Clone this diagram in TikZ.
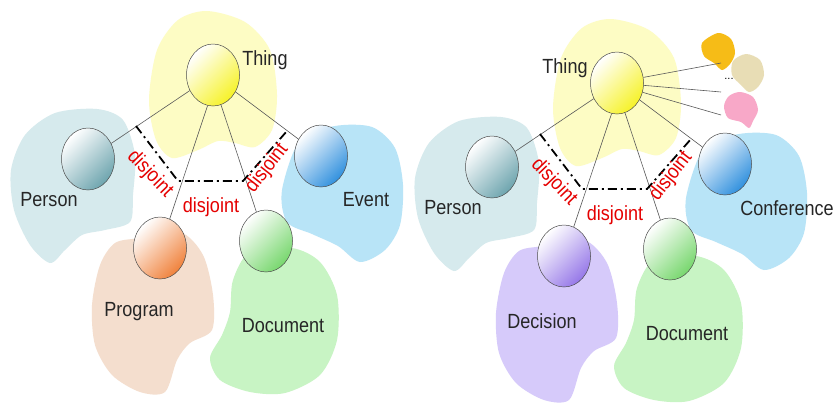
\documentclass[tikz,border=0pt]{standalone}
\usepackage{fontspec}
\setmainfont{Liberation Sans}
\newfontfamily\labelfont[FakeStretch=0.88]{Liberation Sans}
\usetikzlibrary{shapes.geometric}

\definecolor{thingbg}{RGB}{253,252,196}
\definecolor{personbg}{RGB}{214,234,237}
\definecolor{eventbg}{RGB}{184,228,247}
\definecolor{progbg}{RGB}{244,222,206}
\definecolor{docbg}{RGB}{200,244,196}
\definecolor{decbg}{RGB}{214,202,250}
\definecolor{thingball}{RGB}{246,242,40}
\definecolor{personball}{RGB}{110,165,175}
\definecolor{eventball}{RGB}{50,145,222}
\definecolor{progball}{RGB}{240,130,60}
\definecolor{docball}{RGB}{120,215,110}
\definecolor{decball}{RGB}{150,120,232}
\definecolor{orangebg}{RGB}{246,188,23}
\definecolor{beigebg}{RGB}{232,221,181}
\definecolor{pinkbg}{RGB}{248,168,200}

\tikzset{
  ball/.style={ellipse, draw=black!70, line width=.5pt, minimum width=53pt, minimum height=62pt,
    inner sep=0pt, top color=white, bottom color=#1, shading angle=45},
  link/.style={draw=black!65, line width=.6pt},
  disj/.style={line width=1.8pt, dash pattern=on 9pt off 4pt on 2pt off 4pt},
  disjlabel/.style={text=red!90!black, font=\labelfont\fontsize{20.5}{22}\selectfont, inner sep=0pt},
  classname/.style={text=black!85, font=\labelfont\fontsize{20.5}{22}\selectfont, inner sep=0pt}
}

\begin{document}
\begin{tikzpicture}[x=1pt,y=-1pt]
  \useasboundingbox[fill=white] (0,0) rectangle (834,402);
  % both ontologies share one layout
  \foreach \p/\dx/\dy/\midbg/\midball/\sidebg/\sideball in
      {L/0/0/progbg/progball/eventbg/eventball, R/404/8/decbg/decball/eventbg/eventball}{
    \begin{scope}[shift={(\dx,\dy)}]
      \fill[thingbg] plot[smooth cycle] coordinates {(207,11) (245,22) (270,50) (277,95) (272,130)
        (255,147) (235,143) (218,141) (198,150) (172,158) (156,140) (149,100) (157,50) (178,20)};
      \fill[personbg] plot[smooth cycle] coordinates {(97,109) (123,120) (135,155) (133,195) (130,222)
        (105,230) (82,235) (65,250) (50,263) (30,245) (14,210) (11,170) (25,135) (55,113)};
      \fill[\sidebg] plot[smooth cycle] coordinates {(300,140) (335,126) (372,127) (395,148) (403,185)
        (400,225) (385,250) (360,262) (338,246) (312,234) (287,222) (282,190)};
      \fill[\midbg] plot[smooth cycle] coordinates {(140,238) (180,232) (203,255) (213,295) (212,330)
        (190,343) (177,360) (165,392) (140,392) (112,375) (95,345) (92,305) (100,265) (115,243)};
      \fill[docbg] plot[smooth cycle] coordinates {(250,252) (292,248) (320,262) (337,295) (337,340)
        (320,375) (285,393) (250,392) (220,380) (210,358) (222,335) (230,312) (233,280)};

      \node[ball=thingball] (thing\p) at (213,75) {};
      \node[ball=personball] (person\p) at (88,159) {};
      \node[ball=\sideball] (side\p) at (321,156) {};
      \node[ball=\midball] (mid\p) at (160,248) {};
      \node[ball=docball] (doc\p) at (266,241) {};

      \draw[link] (thing\p) -- (person\p);
      \draw[link] (thing\p.-100) -- (mid\p);
      \draw[link] (thing\p.-75) -- (doc\p);
      \draw[link] (thing\p) -- (side\p);

      \coordinate (dja\p) at (136,126);
      \coordinate (djb\p) at (178,181);
      \coordinate (djc\p) at (243,181);
      \coordinate (djd\p) at (287,131);
      \draw[disj] (dja\p) -- (djb\p) -- (djc\p) -- (djd\p);
      \node[disjlabel, rotate=-46] (djl\p) at (150,174) {disjoint};
      \node[disjlabel] (djm\p) at (211,207) {disjoint};
      \node[disjlabel, rotate=52] (djr\p) at (267,168) {disjoint};

      \node[classname] (personname\p) at (49,200) {Person};
      \node[classname] (docname\p) at (283,326) {Document};
    \end{scope}
  }

  % left side names
  \node[classname] (thingnameL) at (265,60) {Thing};
  \node[classname] (eventname) at (366,200) {Event};
  \node[classname] (progname) at (139,312) {Program};

  % right side names
  \node[classname] (thingnameR) at (565,68) {Thing};
  \node[classname] (confname) at (787,208) {Conference};
  \node[classname] (decname) at (542,321) {Decision};

  % further classes of the right ontology
  \fill[orangebg] plot[smooth cycle] coordinates {(718,33) (731,39) (735,53) (730,64) (722,70)
    (714,63) (704,56) (702,43)};
  \fill[beigebg] plot[smooth cycle] coordinates {(746,54) (760,60) (764,75) (758,87) (749,92)
    (741,85) (732,75) (733,61)};
  \fill[pinkbg] plot[smooth cycle] coordinates {(740,92) (753,97) (758,110) (753,121) (749,128)
    (741,122) (728,118) (724,106) (729,96)};
  \coordinate (moreA) at (721,63);
  \coordinate (moreB) at (721,92);
  \coordinate (moreC) at (721,115);
  \draw[link] (thingR.12) -- (moreA);
  \draw[link] (thingR.-5) -- (moreB);
  \draw[link] (thingR.-20) -- (moreC);
  \node[font=\fontsize{11}{12}\selectfont, inner sep=0pt] (dots) at (729,79) {...};
\end{tikzpicture}
\end{document}
